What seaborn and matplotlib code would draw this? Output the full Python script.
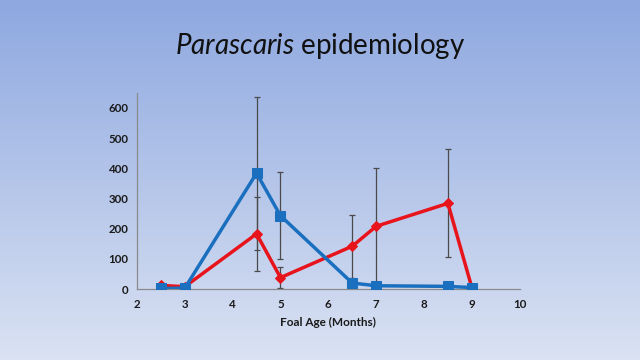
import numpy as np
import pandas as pd
import matplotlib
matplotlib.use("Agg")
import matplotlib.pyplot as plt
import seaborn as sns

# data
ages = [2.5, 3, 4.5, 5, 6.5, 7, 8.5, 9]
blue_vals = [2, 3, 384, 243, 20, 11, 9, 5]
red_vals = [12, 8, 183, 38, 142, 208, 284, 5]

blue_err_x = [4.5, 5]
blue_err_y = [384, 243]
blue_err = [254, 145]

red_err_x = [4.5, 5, 6.5, 7, 8.5]
red_err_y = [183, 38, 142, 208, 284]
red_err = [122, 35, 105, 193, 179]

sns.set_style("white")
plt.rcParams['font.family'] = ['Lato', 'DejaVu Sans']
plt.rcParams['mathtext.fontset'] = 'custom'
plt.rcParams['mathtext.it'] = 'Lato:italic'
plt.rcParams['mathtext.rm'] = 'Lato'

fig = plt.figure(figsize=(6.4, 3.6), dpi=100)

# gradient background
bg = fig.add_axes([0, 0, 1, 1], zorder=-10)
top = np.array([0x8E, 0xA8, 0xE0]) / 255
bot = np.array([0xDA, 0xE2, 0xF3]) / 255
t = np.linspace(0, 1, 256)[:, None]
grad = top[None, :] * (1 - t) + bot[None, :] * t
bg.imshow(grad[:, None, :], aspect='auto', extent=[0, 1, 0, 1])
bg.axis('off')

ax = fig.add_axes([0.214, 0.197, 0.598, 0.545])
ax.patch.set_alpha(0)

df = pd.DataFrame({
    'age': ages * 2,
    'count': blue_vals + red_vals,
    'group': ['blue'] * len(ages) + ['red'] * len(ages),
})

ax.errorbar(blue_err_x, blue_err_y, yerr=blue_err, fmt='none', ecolor='#4a4a4a',
            elinewidth=0.9, capsize=2.5, capthick=0.9, zorder=1)
ax.errorbar(red_err_x, red_err_y, yerr=red_err, fmt='none', ecolor='#4a4a4a',
            elinewidth=0.9, capsize=2.5, capthick=0.9, zorder=1)

sns.lineplot(data=df[df.group == 'red'], x='age', y='count', ax=ax, color='#E8141C',
             marker='D', markersize=5, markeredgecolor='#E8141C', linewidth=2.5,
             legend=False, zorder=3)
sns.lineplot(data=df[df.group == 'blue'], x='age', y='count', ax=ax, color='#1A6FBE',
             marker='s', markersize=7, markeredgecolor='#1A6FBE', linewidth=2.5,
             legend=False, zorder=4)

ax.set_xlim(2, 10)
ax.set_ylim(0, 650)
ax.set_xticks(range(2, 11))
ax.set_yticks(range(0, 601, 100))
ax.tick_params(axis='both', labelsize=8.3, colors='#333333', length=3, width=0.8,
               direction='out', pad=3)
ax.tick_params(axis='x', pad=4)
for lab in ax.get_xticklabels() + ax.get_yticklabels():
    lab.set_fontweight('bold')
    lab.set_color('#1a1a1a')

for s in ['top', 'right']:
    ax.spines[s].set_visible(False)
for s in ['left', 'bottom']:
    ax.spines[s].set_color('#8a8a8a')
    ax.spines[s].set_linewidth(0.9)

ax.set_xlabel('Foal Age (Months)', fontsize=8.5, fontweight='bold', color='#1a1a1a', labelpad=5)
ax.set_ylabel('')

fig.text(0.5, 0.872, r'$\it{Parascaris}$ epidemiology', ha='center', va='center',
         fontsize=20, color='#111111')

fig.savefig('out.png', dpi=100)
